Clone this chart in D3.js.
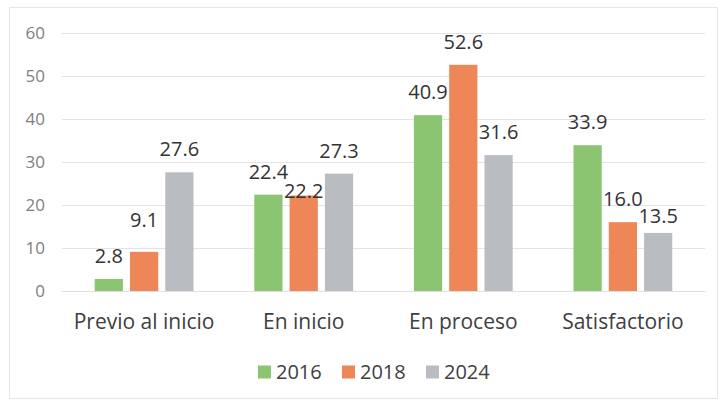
<!DOCTYPE html>
<html>
<head>
<meta charset="utf-8">
<script src="https://cdn.jsdelivr.net/npm/d3@7"></script>
<style>
  html, body { margin: 0; padding: 0; background: #ffffff; }
  svg { display: block; }
  text { font-family: "Open Sans", "Noto Sans", sans-serif; }
</style>
</head>
<body>
<svg id="chart" width="720" height="401"></svg>
<script>
// Niveles de logro por año
const categories = ["Previo al inicio", "En inicio", "En proceso", "Satisfactorio"];
const years = ["2016", "2018", "2024"];
const values2016 = [2.8, 22.4, 40.9, 33.9];
const values2018 = [9.1, 22.2, 52.6, 16.0];
const values2024 = [27.6, 27.3, 31.6, 13.5];
const yTicks = [0, 10, 20, 30, 40, 50, 60];

const seriesValues = [values2016, values2018, values2024];
const colors = ["#8cc572", "#ef8657", "#b9bdc1"];

// Small vertical nudges for labels that would otherwise collide
const labelNudge = { "2018|Previo al inicio": -9, "2018|En inicio": 18, "2024|Satisfactorio": 6 };

const W = 720, H = 401;
const margin = { top: 33, right: 15, bottom: 110, left: 62 };
const svg = d3.select("#chart");

// Faint outer frame
svg.append("rect")
  .attr("x", 9.5).attr("y", 7.5)
  .attr("width", W - 12).attr("height", H - 10)
  .attr("fill", "#ffffff").attr("stroke", "#e6e6e6");

const x0 = d3.scaleBand()
  .domain(categories)
  .range([margin.left, W - margin.right])
  .paddingInner(0.381).paddingOuter(0.205);

const x1 = d3.scaleBand()
  .domain(years)
  .range([0, x0.bandwidth()])
  .paddingInner(0.2);

const y = d3.scaleLinear()
  .domain([0, 60])
  .range([H - margin.bottom, margin.top]);

// Gridlines and y tick labels
const yAxis = d3.axisLeft(y).tickValues(yTicks).tickSize(-(W - margin.right - margin.left)).tickPadding(17);
const gy = svg.append("g")
  .attr("transform", `translate(${margin.left},0)`)
  .call(yAxis);
gy.select(".domain").remove();
gy.selectAll(".tick line").attr("stroke", "#e3e3e3").attr("stroke-width", 1);
gy.selectAll(".tick text")
  .attr("fill", "#808080")
  .style("font-size", "17px");

// Category axis labels
const gx = svg.append("g")
  .attr("transform", `translate(0,${H - margin.bottom})`)
  .call(d3.axisBottom(x0).tickSize(0));
gx.select(".domain").attr("stroke", "#e0e0e0");
gx.selectAll(".tick text")
  .attr("y", 38).attr("dy", 0)
  .attr("fill", "#404040")
  .style("font-size", "21px");

// Bars
const rows = [];
categories.forEach((c, i) => {
  years.forEach((yr, s) => rows.push({ cat: c, year: yr, s, v: seriesValues[s][i] }));
});

svg.append("g").selectAll("rect")
  .data(rows)
  .join("rect")
  .attr("x", d => x0(d.cat) + x1(d.year))
  .attr("y", d => y(d.v))
  .attr("width", x1.bandwidth())
  .attr("height", d => y(0) - y(d.v))
  .attr("fill", d => colors[d.s]);

// Value labels
svg.append("g").selectAll("text")
  .data(rows)
  .join("text")
  .attr("x", d => x0(d.cat) + x1(d.year) + x1.bandwidth() / 2)
  .attr("y", d => y(d.v) - 16 + (labelNudge[d.year + "|" + d.cat] || 0))
  .attr("text-anchor", "middle")
  .attr("fill", "#333333")
  .style("font-size", "20px")
  .text(d => d.v.toFixed(1));

// Legend
const legend = svg.append("g").attr("transform", "translate(0,372)");
const legendX = [258, 342, 426];
years.forEach((yr, s) => {
  const g = legend.append("g").attr("transform", `translate(${legendX[s]},0)`);
  g.append("rect").attr("x", 0).attr("y", -6.5).attr("width", 13).attr("height", 13).attr("fill", colors[s]);
  g.append("text").attr("x", 18).attr("y", 0).attr("dy", "0.36em")
    .attr("fill", "#404040").style("font-size", "20px").text(yr);
});
</script>
</body>
</html>
